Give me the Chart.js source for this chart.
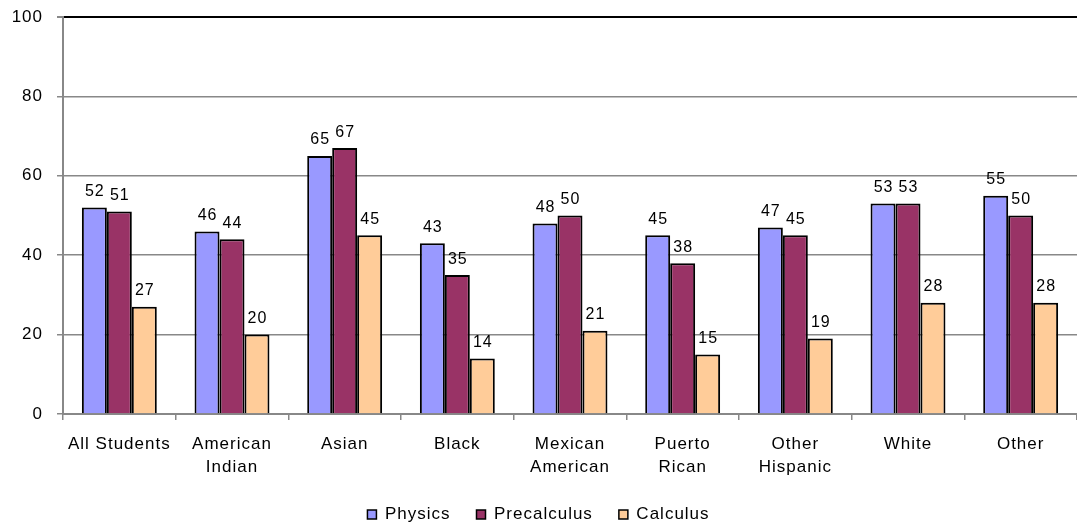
<!DOCTYPE html>
<html lang="en">
<head>
    <meta charset="UTF-8">
    <title>Course taking by group</title>
    <script src="https://cdn.jsdelivr.net/npm/chart.js"></script>
    <style>
        html, body { margin: 0; padding: 0; background: #ffffff; }
        #chart { display: block; }
    </style>
</head>
<body>
    <canvas id="chart" width="1077" height="525"></canvas>
    <script>
        const categories = [
            'All Students', ['American', 'Indian'], 'Asian', 'Black',
            ['Mexican', 'American'], ['Puerto', 'Rican'], ['Other', 'Hispanic'], 'White', 'Other'
        ];
        const physics = [52, 46, 65, 43, 48, 45, 47, 53, 55];
        const precalculus = [51, 44, 67, 35, 50, 38, 45, 53, 50];
        const calculus = [27, 20, 45, 14, 21, 15, 19, 28, 28];
        const yTicks = [0, 20, 40, 60, 80, 100];

        const fontFamily = '"Liberation Sans", Arial, sans-serif';

        // the reference text is spaced a bit wider than plain Arial
        const spacing = {
            id: 'spacing',
            beforeUpdate(chart) { chart.ctx.letterSpacing = '1px'; },
            beforeDraw(chart) { chart.ctx.letterSpacing = '1px'; }
        };

        // draws the value above every bar
        const valueLabels = {
            id: 'valueLabels',
            afterDatasetsDraw(chart) {
                const ctx = chart.ctx;
                ctx.save();
                ctx.font = '16px ' + fontFamily;
                ctx.fillStyle = '#000';
                ctx.textAlign = 'center';
                ctx.textBaseline = 'alphabetic';
                chart.data.datasets.forEach((ds, i) => {
                    chart.getDatasetMeta(i).data.forEach((bar, j) => {
                        ctx.fillText(ds.data[j], bar.x + 0.5, bar.y - 11.5);
                    });
                });
                ctx.restore();
            }
        };

        new Chart(document.getElementById('chart'), {
            type: 'bar',
            data: {
                labels: categories,
                datasets: [
                    { label: 'Physics', data: physics, backgroundColor: '#9999FF' },
                    { label: 'Precalculus', data: precalculus, backgroundColor: '#993366' },
                    { label: 'Calculus', data: calculus, backgroundColor: '#FFCC99' }
                ].map(d => Object.assign(d, { borderColor: '#000', borderWidth: 2 }))
            },
            options: {
                responsive: false,
                animation: false,
                datasets: { bar: { categoryPercentage: 0.665, barPercentage: 1 } },
                layout: { padding: { top: 17, right: 0, left: 0, bottom: 0 } },
                plugins: {
                    tooltip: { enabled: false },
                    legend: {
                        position: 'bottom',
                        maxHeight: 45,
                        labels: {
                            font: { size: 17, family: fontFamily },
                            color: '#000',
                            boxWidth: 9,
                            boxHeight: 9,
                            padding: 26,
                            generateLabels(chart) {
                                return chart.data.datasets.map((d, i) => ({
                                    text: d.label,
                                    fillStyle: d.backgroundColor,
                                    strokeStyle: '#000',
                                    lineWidth: 1.5,
                                    datasetIndex: i
                                }));
                            }
                        }
                    }
                },
                scales: {
                    x: {
                        grid: { drawOnChartArea: false, drawTicks: true, tickLength: 6, color: '#888', lineWidth: 1.5 },
                        border: { color: '#888', width: 2 },
                        ticks: { font: { size: 17, family: fontFamily, lineHeight: 1.35 }, color: '#000', maxRotation: 0, padding: 13 },
                        afterFit(scale) { scale.height = 66; }
                    },
                    y: {
                        min: 0,
                        max: 100,
                        afterBuildTicks(scale) { scale.ticks = yTicks.map(v => ({ value: v })); },
                        grid: {
                            color: c => c.tick && c.tick.value === 100 ? '#000' : '#888',
                            lineWidth: c => c.tick && c.tick.value === 100 ? 2 : 1.5,
                            tickColor: '#888',
                            tickLength: 6
                        },
                        border: { color: '#888', width: 2 },
                        ticks: { font: { size: 17, family: fontFamily }, color: '#000', padding: 14 },
                        afterFit(scale) {
                            scale.width = 63;
                            scale.paddingTop = 10;
                            scale.paddingBottom = 10;
                        }
                    }
                }
            },
            plugins: [spacing, valueLabels]
        });
    </script>
</body>
</html>
